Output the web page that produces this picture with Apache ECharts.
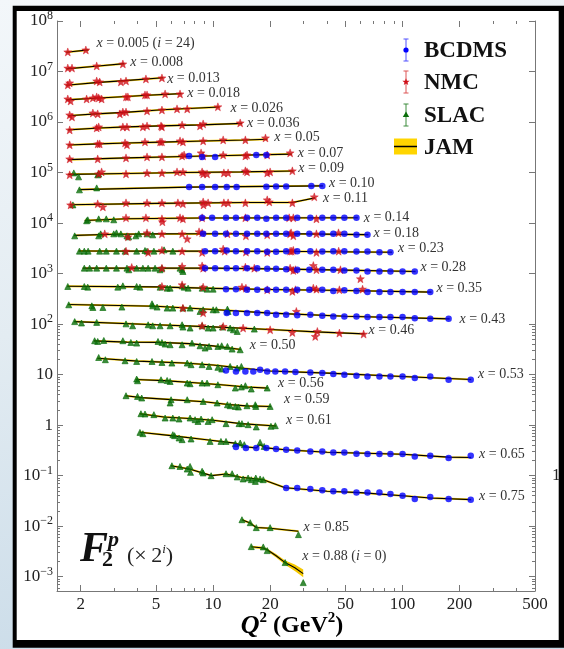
<!DOCTYPE html>
<html><head><meta charset="utf-8">
<script src="https://cdn.jsdelivr.net/npm/echarts@6/dist/echarts.min.js"></script>
<style>
html,body{margin:0;padding:0;width:564px;height:649px;overflow:hidden;
background:linear-gradient(170deg,#f3f7fa 0%,#e3ecf2 45%,#c6d9e7 100%);}
#chart{width:564px;height:649px;}
</style></head><body><div id="chart"></div>
<script>
// ---------------- DATA ----------------
const binX = ['0.005','0.008','0.013','0.018','0.026','0.036','0.05','0.07','0.09','0.10','0.11','0.14','0.18','0.23','0.28','0.35','0.43','0.46','0.50','0.53','0.56','0.59','0.61','0.65','0.75','0.85','0.88'];
const shownI = [[0, 24], [26, 0]];

// NMC: per bin, [Q2, F2 x 2^i]
const NMC = [
 [[1.71,2.44e7],[2.13,2.67e7]],
 [[1.71,1.17e7],[1.80,1.17e7],[2.43,1.29e7],[3.34,1.41e7]],
 [[1.71,5.42e6],[1.75,5.94e6],[2.43,6.50e6],[2.52,6.21e6],[3.26,6.21e6],[3.47,6.50e6],[4.42,7.13e6],[5.37,7.46e6]],
 [[1.71,2.86e6],[1.77,2.61e6],[2.15,2.86e6],[2.32,3.00e6],[2.43,3.14e6],[2.49,3.00e6],[2.58,2.86e6],[3.47,3.14e6],[3.55,3.14e6],[4.37,3.44e6],[4.48,3.44e6],[5.58,3.60e6],[6.69,3.60e6]],
 [[1.75,1.38e6],[1.80,1.26e6],[2.32,1.51e6],[2.46,1.45e6],[3.22,1.45e6],[3.34,1.58e6],[3.47,1.58e6],[4.48,1.66e6],[5.37,1.73e6],[6.45,1.82e6],[7.30,1.82e6],[10.6,2.00e6]],
 [[1.75,6.98e5],[2.43,7.64e5],[2.49,8.00e5],[3.34,8.00e5],[3.51,8.00e5],[4.26,8.00e5],[4.48,8.37e5],[5.31,8.37e5],[5.37,8.00e5],[6.86,8.77e5],[8.53,8.37e5],[8.86,9.17e5],[13.9,9.60e5]],
 [[1.75,3.53e5],[2.46,3.69e5],[2.52,3.69e5],[3.43,3.86e5],[3.51,3.53e5],[4.37,4.04e5],[5.25,4.04e5],[5.37,4.04e5],[6.69,4.23e5],[6.93,4.04e5],[8.86,4.23e5],[11.3,4.43e5],[14.8,4.43e5],[18.9,4.84e5]],
 [[1.75,1.86e5],[2.46,1.86e5],[3.47,1.95e5],[4.48,2.04e5],[5.37,2.04e5],[6.86,2.13e5],[7.03,2.23e5],[8.64,2.45e5],[8.86,2.13e5],[11.3,2.23e5],[14.8,2.13e5],[15.1,2.23e5],[19.3,2.23e5],[25.5,2.45e5]],
 [[1.75,9.0e4],[2.49,9.41e4],[2.58,1.03e5],[3.47,9.41e4],[4.48,9.84e4],[5.37,9.84e4],[6.45,1.03e5],[6.93,1.03e5],[8.75,1.03e5],[8.86,9.41e4],[9.29,9.41e4],[11.4,9.84e4],[12.0,9.84e4],[14.8,1.08e5],[15.1,1.03e5],[19.3,9.84e4],[20.0,1.03e5],[26.2,1.08e5]],
 [],
 [[1.77,2.29e4],[2.46,2.40e4],[2.62,2.09e4],[3.47,2.51e4],[4.48,2.51e4],[5.37,2.51e4],[6.52,2.51e4],[6.93,2.40e4],[8.86,2.62e4],[8.90,2.29e4],[9.41,2.51e4],[11.4,2.51e4],[12.0,2.51e4],[14.8,2.51e4],[19.3,2.88e4],[19.8,2.62e4],[26.2,2.51e4],[34.2,3.30e4]],
 [[3.47,1.27e4],[4.42,1.27e4],[5.37,1.21e4],[5.40,1.06e4],[6.69,1.27e4],[6.93,1.21e4],[8.75,1.27e4],[14.8,1.27e4],[25.2,1.27e4],[26.5,1.27e4],[35.1,1.21e4]],
 [[2.68,6.11e3],[3.55,5.33e3],[4.48,6.40e3],[5.37,6.11e3],[6.86,6.11e3],[7.30,4.87e3],[8.43,6.70e3],[8.75,6.40e3],[11.9,6.11e3],[14.9,5.58e3],[19.3,5.84e3],[25.5,6.11e3],[25.8,6.40e3],[26.5,5.58e3],[35.1,6.11e3],[45.9,6.40e3]],
 [[3.47,2.78e3],[4.54,2.62e3],[5.37,2.88e3],[6.86,2.78e3],[8.75,2.62e3],[11.3,3.05e3],[11.5,2.78e3],[14.9,2.66e3],[19.3,2.62e3],[25.5,2.78e3],[26.0,2.78e3],[26.5,2.88e3],[35.1,2.62e3],[46.0,2.78e3]],
 [[3.72,1.32e3],[5.37,1.28e3],[6.86,1.38e3],[8.75,1.42e3],[8.86,1.28e3],[14.8,1.34e3],[16.5,1.28e3],[25.5,1.28e3],[26.5,1.15e3],[27.2,1.19e3],[33.8,1.44e3],[35.1,1.19e3],[47.0,1.19e3],[59.9,788]],
 [[5.37,555],[6.86,599],[8.86,539],[14.2,539],[14.9,515],[19.3,477],[26.2,443],[27.2,477],[33.8,515],[35.1,492],[46.4,477],[61.5,492]],
 [[6.93,207],[8.86,167],[27.5,178]],
 [[8.75,92.5],[11.3,89.8],[14.4,83.4],[20.0,77.1],[26.2,68.2],[34.6,56.9],[35.5,71.4],[46.4,66.4],[62.3,63.4]],
 [],[],[],[],[],[],[],[],[]
];

// BCDMS: per bin, [Q2, F2 x 2^i]
const BCDMS = [
 [],[],[],[],[],[],[],
 [[7.47,2.13e5],[8.75,2.04e5],[10.25,2.04e5],[16.9,2.23e5],[19.1,2.23e5]],
 [],
 [[7.47,5.15e4],[8.75,5.2e4],[10.25,5.2e4],[11.8,5.2e4],[13.3,5.2e4],[19.1,5.25e4],[21.5,5.3e4],[24.3,5.3e4],[33.0,5.4e4],[37.7,5.44e4]],
 [],
 [[8.75,1.27e4],[9.88,1.27e4],[11.7,1.27e4],[13.2,1.27e4],[15.1,1.27e4],[17.1,1.27e4],[19.1,1.22e4],[21.5,1.27e4],[24.3,1.27e4],[27.8,1.27e4],[32.6,1.27e4],[37.7,1.27e4],[43.1,1.27e4],[49.3,1.27e4],[57.1,1.27e4]],
 [[8.86,6.11e3],[10.25,6.11e3],[11.7,6.11e3],[13.2,6.11e3],[15.1,6.11e3],[17.1,6.11e3],[19.1,6.11e3],[21.5,6.11e3],[24.3,6.11e3],[27.8,6.11e3],[32.2,6.11e3],[37.7,6.11e3],[43.1,6.11e3],[49.3,6.11e3],[57.1,5.84e3],[65.3,5.84e3]],
 [[9.07,2.78e3],[10.25,2.78e3],[11.8,2.86e3],[13.2,2.78e3],[15.1,2.78e3],[17.1,2.78e3],[19.3,2.70e3],[21.5,2.70e3],[24.3,2.78e3],[27.8,2.78e3],[32.6,2.78e3],[37.7,2.72e3],[43.1,2.78e3],[49.3,2.78e3],[57.1,2.72e3],[65.3,2.72e3],[75.5,2.64e3],[86.3,2.64e3]],
 [[9.07,1.28e3],[10.25,1.28e3],[11.8,1.28e3],[13.2,1.28e3],[15.1,1.28e3],[17.1,1.28e3],[19.3,1.24e3],[21.5,1.24e3],[24.3,1.22e3],[27.8,1.19e3],[32.2,1.19e3],[37.7,1.19e3],[43.1,1.19e3],[49.3,1.15e3],[57.1,1.15e3],[65.3,1.10e3],[75.5,1.10e3],[86.3,1.10e3],[100,1.10e3],[116,1.10e3]],
 [[11.7,492],[13.2,492],[15.1,477],[17.1,477],[19.3,477],[21.5,477],[24.3,477],[27.8,477],[32.2,477],[37.7,477],[43.1,450],[49.3,465],[57.1,450],[65.3,432],[75.5,432],[86.3,432],[100,432],[116,432],[140,432]],
 [[11.8,165],[13.2,165],[15.1,165],[17.1,165],[19.3,165],[21.5,153],[24.3,153],[27.8,150],[32.6,153],[37.7,146],[43.1,142],[49.3,142],[57.1,142],[65.3,138],[75.5,138],[86.3,138],[100,138],[116,131],[140,127],[175,127]],
 [],[],
 [[11.7,12.1],[13.2,11.5],[14.8,11.5],[16.3,11.5],[17.7,12.5],[19.3,11.5],[21.3,11.5],[24.0,11.5],[27.2,11.2],[32.6,11.0],[37.7,10.7],[43.1,10.3],[49.3,9.94],[57.1,9.49],[65.3,9.18],[75.5,9.18],[86.3,9.18],[100,9.18],[116,8.55],[140,9.18],[175,7.91],[229,7.91]],
 [],[],[],
 [[13.2,0.369],[14.9,0.352],[16.9,0.352],[19.1,0.352],[21.5,0.336],[24.3,0.326],[27.8,0.315],[32.6,0.301],[37.7,0.301],[43.1,0.288],[49.3,0.288],[57.1,0.272],[65.3,0.268],[75.5,0.268],[86.3,0.268],[100,0.268],[116,0.240],[140,0.248],[175,0.223],[229,0.248]],
 [[24.3,0.0570],[27.8,0.0570],[32.6,0.0545],[37.7,0.0511],[43.1,0.0488],[49.3,0.0488],[57.1,0.0466],[65.3,0.0466],[75.5,0.0466],[86.3,0.0434],[100,0.0401],[116,0.0345],[140,0.0378],[175,0.0345],[229,0.0334]],
 [],[]
];

// SLAC: per bin, [Q2, F2 x 2^i]
const SLAC = [
 [],[],[],[],[],[],[],[],
 [[1.84,9.84e4],[1.95,8.21e4],[2.46,9.0e4],[2.49,9.41e4]],
 [[1.97,4.54e4],[2.43,4.97e4]],
 [[1.82,2.29e4]],
 [[2.15,1.11e4],[2.18,1.16e4],[2.49,1.21e4],[2.73,1.21e4],[2.99,1.16e4]],
 [[1.86,5.58e3],[2.49,5.58e3],[2.55,6.11e3],[2.99,6.11e3],[3.09,6.40e3],[3.26,6.11e3],[3.51,5.58e3],[3.59,5.33e3],[3.91,5.58e3],[4.05,6.11e3],[4.48,6.11e3],[4.80,5.84e3]],
 [[1.97,2.78e3],[2.09,2.78e3],[2.19,2.78e3],[2.52,2.78e3],[2.73,2.78e3],[3.09,2.78e3],[3.43,2.78e3],[3.95,2.78e3],[4.37,2.86e3],[4.48,2.78e3],[4.87,2.78e3],[5.51,2.95e3],[6.13,2.78e3]],
 [[2.09,1.28e3],[2.23,1.28e3],[2.43,1.28e3],[2.73,1.28e3],[3.09,1.28e3],[3.51,1.28e3],[3.59,1.19e3],[3.95,1.28e3],[4.26,1.28e3],[4.54,1.28e3],[4.94,1.28e3],[5.25,1.19e3],[5.37,1.28e3],[6.69,1.28e3],[6.86,1.19e3],[6.93,1.10e3]],
 [[1.71,555],[2.09,555],[2.18,539],[3.14,539],[3.34,572],[3.95,555],[4.11,539],[5.25,539],[5.72,515],[5.93,515],[6.86,572],[7.03,539],[7.38,515],[8.75,515],[9.29,492],[10.0,492]],
 [[1.73,241],[2.29,230],[2.32,213],[2.62,213],[3.30,217],[4.76,252],[4.80,230],[5.06,217],[5.72,207],[6.13,207],[6.93,207],[7.56,207],[8.53,178],[8.86,192],[10.0,192],[10.4,192],[11.9,198],[12.0,178]],
 [[1.86,112],[2.02,105],[2.43,108],[3.47,101],[3.76,92.5],[4.54,96.9],[4.80,92.5],[5.25,92.5],[5.93,92.5],[6.86,96.9],[6.93,87.3],[7.56,83.4],[8.75,92.5],[9.41,83.4],[10.0,83.4],[11.2,87.3],[12.3,83.4],[12.8,77.1],[13.4,71.4],[16.5,79.6]],
 [[2.37,46.8],[2.46,45.3],[2.65,47.4],[3.34,46.8],[3.68,43.3],[3.95,42.0],[5.12,45.3],[5.37,43.3],[5.58,40.2],[5.93,39.0],[6.86,39.0],[7.74,42.0],[8.53,37.2],[9.07,33.5],[9.52,36.1],[10.6,36.1],[11.1,37.2],[11.9,36.1],[12.6,32.0],[13.9,31.0]],
 [[2.49,21.8],[2.70,19.7],[3.43,18.8],[3.95,18.2],[4.76,18.2],[5.37,17.4],[6.06,16.9],[7.30,16.9],[7.65,15.7],[8.75,15.7],[9.52,14.5],[10.6,13.9],[11.1,12.9],[12.3,14.5],[13.4,13.5],[14.1,14.5]],
 [[3.95,8.17],[3.99,7.56],[5.31,7.91],[5.72,7.66],[5.93,7.31],[7.30,6.80],[7.56,6.59],[8.75,6.80],[9.29,6.80],[10.6,6.30],[13.1,5.42],[14.1,5.68],[14.8,6.02],[15.9,5.18],[19.3,5.42]],
 [[3.47,3.82],[3.99,3.70],[4.20,3.44],[5.93,2.74],[6.00,3.18],[7.30,3.18],[8.86,2.94],[10.5,2.74],[11.9,2.53],[12.3,2.42],[13.1,2.34],[13.6,2.28],[15.1,2.42],[16.7,2.53],[16.8,2.34],[20.0,2.34]],
 [[4.16,1.68],[4.37,1.66],[4.87,1.61],[5.58,1.38],[6.13,1.38],[6.61,1.32],[7.56,1.38],[8.03,1.28],[8.32,1.18],[8.64,1.32],[9.41,1.18],[9.88,1.28],[11.7,1.07],[13.7,1.07],[14.2,1.07],[15.3,1.02],[16.9,0.920],[20.2,0.948],[21.3,0.973]],
 [[4.11,0.718],[4.26,0.676],[6.13,0.646],[6.26,0.618],[6.61,0.556],[6.86,0.515],[7.65,0.531],[9.64,0.476],[11.0,0.476],[11.7,0.476],[13.1,0.429],[13.9,0.443],[14.6,0.410],[17.7,0.455],[18.6,0.379]],
 [[6.06,0.157],[6.69,0.152],[7.30,0.135],[7.56,0.152],[7.60,0.116],[8.75,0.122],[8.86,0.113],[9.76,0.0997],[11.7,0.109],[12.6,0.109],[13.4,0.0940],[14.4,0.0859],[15.3,0.0898],[15.9,0.0830],[16.7,0.0769],[16.8,0.0898],[17.7,0.0859],[18.4,0.0830]],
 [[14.2,0.0134],[15.7,0.0117],[16.9,0.00934],[20.0,0.00934],[28.2,0.00679]],
 [[15.9,0.00393],[18.4,0.00388],[19.3,0.00328],[24.0,0.00190],[29.9,0.000762]]
];

// JAM fit curve: per bin, [Q2, F2 x 2^i]
const JAM = [
 [[1.68,2.40e7],[2.2,2.68e7]],
 [[1.68,1.13e7],[2.4,1.27e7],[3.4,1.43e7]],
 [[1.68,5.35e6],[2.5,6.1e6],[3.4,6.6e6],[5.45,7.5e6]],
 [[1.68,2.75e6],[2.5,3.0e6],[3.5,3.2e6],[4.5,3.4e6],[6.8,3.65e6]],
 [[1.72,1.33e6],[2.4,1.45e6],[3.4,1.55e6],[5.4,1.75e6],[10.8,1.98e6]],
 [[1.72,7.0e5],[2.5,7.6e5],[3.5,8.0e5],[5.3,8.4e5],[8.7,8.8e5],[14.2,9.4e5]],
 [[1.72,3.5e5],[2.5,3.7e5],[3.5,3.85e5],[5.3,4.0e5],[8.9,4.2e5],[14.8,4.4e5],[19.3,4.55e5]],
 [[1.72,1.8e5],[3.5,1.95e5],[7,2.08e5],[12,2.17e5],[26,2.32e5]],
 [[1.72,9.2e4],[3.5,9.6e4],[7,1.0e5],[14,1.03e5],[26.5,1.07e5]],
 [[1.97,4.6e4],[7.5,5.15e4],[38,5.45e4]],
 [[1.75,2.3e4],[5,2.45e4],[15,2.55e4],[26.2,2.55e4],[34.5,3.15e4]],
 [[2.1,1.12e4],[3.5,1.22e4],[8.75,1.26e4],[58,1.27e4]],
 [[1.85,5.7e3],[3,6.0e3],[5,6.1e3],[10,6.15e3],[30,6.1e3],[66,5.9e3]],
 [[1.95,2.8e3],[5,2.78e3],[10,2.78e3],[30,2.74e3],[88,2.65e3]],
 [[2.05,1.28e3],[5,1.28e3],[10,1.28e3],[20,1.24e3],[50,1.17e3],[117,1.10e3]],
 [[1.7,560],[5,545],[10,510],[20,485],[50,462],[142,430]],
 [[1.72,245],[5,225],[10,195],[20,165],[50,143],[177,127]],
 [[1.85,112],[5,97],[10,88],[20,78],[35,70],[63,64]],
 [[2.35,46.5],[3.5,44],[5.2,43.5],[7.5,41],[10,37],[14,31.5]],
 [[2.45,21],[4,18.5],[7,17],[10,15.5],[14,13.5],[20,11.8],[40,10.7],[100,9.2],[230,8.0]],
 [[3.9,8.0],[5.5,7.6],[8,6.9],[11,6.3],[15,5.7],[19.5,5.4]],
 [[3.45,3.8],[4.2,3.5],[6,3.2],[9,2.9],[12,2.55],[15,2.4],[20.2,2.33]],
 [[4.1,1.68],[5.5,1.45],[7.5,1.35],[10,1.25],[14,1.07],[21.5,0.96]],
 [[4.1,0.72],[6,0.62],[9,0.52],[13,0.44],[15,0.37],[16.9,0.355],[17.7,0.41],[18.9,0.355],[24,0.325],[40,0.29],[100,0.265],[175,0.232],[230,0.228]],
 [[6.0,0.157],[7.5,0.135],[9.8,0.10],[11.7,0.108],[14,0.093],[17,0.086],[18.4,0.083],[24,0.0575],[40,0.049],[60,0.046],[100,0.040],[140,0.036],[230,0.0335]],
 [[14.2,0.0134],[15.7,0.0115],[16.9,0.0094],[20,0.0091],[28.2,0.0079]],
 [[15.9,0.0039],[18.4,0.0037],[19.3,0.0034],[21.5,0.0026],[24,0.0019],[27,0.0015],[29.9,0.00115]]
];
// JAM uncertainty band for the x = 0.88 bin (same Q2 as JAM[26])
const bandBin = 26;
const bandUpper = [0.0041,0.0039,0.0036,0.0028,0.0021,0.00175,0.00138];
const bandLower = [0.0037,0.0035,0.0032,0.0024,0.00172,0.0013,0.00097];

// axis ticks
const xTicks = [2,5,10,20,50,100,200,500];
const xMinor = [3,4,6,7,8,9,30,40,60,70,80,90,300,400];
const yTicks = [1e-3,1e-2,1e-1,1,10,100,1e3,1e4,1e5,1e6,1e7,1e8];
const yMinor = [];
for (let d = -4; d <= 1; d++) for (let k = 2; k <= 9; k++) { const v = k * Math.pow(10, d); if (v > 5.2e-4) yMinor.push(v); }

// ---------------- STYLE ----------------
const SERIF = "'Liberation Serif','DejaVu Serif',serif";
const AX = '#777';
const C_B = '#0000ff', C_N = '#d0101a', C_S = '#0a6e0a', C_Y = '#f5c800';
const STAR = 'path://M50,0 L62,33 L98,35 L70,57 L80,92 L50,72 L20,92 L30,57 L2,35 L38,33 Z';
const labelOffsets = [[3,-7],[1,-1],[-1,1],[1,0],[6,1],[0,0],[2,-2],[1,-1],[0,-3],[1,-3],[3,0],[1,0],[0,-1],[1,-4],[0,-4],[0,-4],[5,0],[-1,-4],[4,-4],[2,-5],[5,-5],[8,-7],[5,-6],[3,-3],[3,-3],[0,-4],[-6,-17]];

function yFmt(v) {
  const e = Math.round(Math.log10(v));
  if (e === 0) return '{b|1}';
  if (e === 1) return '{b|10}';
  return '{b|10}{s|' + (e < 0 ? '\u2212' + (-e) : e) + '}';
}
const yRich = { b: { fontFamily: SERIF, fontSize: 17, color: '#222', lineHeight: 22 },
                s: { fontFamily: SERIF, fontSize: 12, color: '#222', lineHeight: 12, verticalAlign: 'top' } };

const X_MIN = 1.5, X_MAX = 500, Y_MIN = 5.2e-4, Y_MAX = 1e8;
function xAx(pos, ticks, len, labels) {
  return { type: 'log', logBase: 10, min: X_MIN, max: X_MAX, position: pos, gridIndex: 0,
    axisLine: { show: labels, onZero: false, lineStyle: { color: AX, width: 1 } },
    axisTick: { show: true, inside: true, length: len, customValues: ticks, lineStyle: { color: AX, width: 1 } },
    axisLabel: labels ? { show: true, customValues: xTicks, margin: 5, fontFamily: SERIF, fontSize: 17, color: '#222' } : { show: false },
    splitLine: { show: false }, minorTick: { show: false } };
}
function yAx(pos, ticks, len, labels, line) {
  return { type: 'log', logBase: 10, min: Y_MIN, max: Y_MAX, position: pos, gridIndex: 0,
    axisLine: { show: line, onZero: false, lineStyle: { color: AX, width: 1 } },
    axisTick: { show: true, inside: true, length: len, customValues: ticks, lineStyle: { color: AX, width: 1 } },
    axisLabel: labels ? { show: true, customValues: yTicks, margin: 4, formatter: yFmt, rich: yRich } : { show: false },
    splitLine: { show: false }, minorTick: { show: false } };
}

const series = [];
JAM.forEach((pts, i) => {
  if (i !== bandBin) {
    series.push({ type: 'line', data: pts, symbol: 'none', silent: true, z: 2,
      lineStyle: { color: C_Y, width: 2 }, animation: false });
  }
  let txt = '{i|x} = ' + binX[i];
  shownI.forEach(s => { if (s[0] === i) txt += ' ({i|i} = ' + s[1] + ')'; });
  series.push({ type: 'line', name: 'JAM', data: pts, symbol: 'none', silent: true, z: 3,
    lineStyle: { color: '#000', width: 1.1 }, animation: false,
    endLabel: { show: true, distance: 5, offset: labelOffsets[i], formatter: () => txt,
      fontFamily: SERIF, fontSize: 14, color: '#333',
      rich: { i: { fontFamily: SERIF, fontSize: 14, fontStyle: 'italic', color: '#333' } } } });
});
series.push({ type: 'custom', silent: true, z: 2, animation: false,
  data: [JAM[bandBin][0]],
  renderItem: (params, api) => {
    const pts = [];
    JAM[bandBin].forEach((p, k) => pts.push(api.coord([p[0], bandUpper[k]])));
    for (let k = JAM[bandBin].length - 1; k >= 0; k--) pts.push(api.coord([JAM[bandBin][k][0], bandLower[k]]));
    return { type: 'polygon', shape: { points: pts }, style: { fill: C_Y } };
  } });
series.push({ type: 'scatter', name: 'SLAC', data: SLAC.flat(), symbol: 'triangle', symbolSize: 6,
  itemStyle: { color: C_S, borderColor: C_S, borderWidth: 0.8 }, z: 5, animation: false });
series.push({ type: 'scatter', name: 'NMC', data: NMC.flat(), symbol: STAR, symbolSize: 8,
  itemStyle: { color: C_N, borderColor: C_N, borderWidth: 0.5 }, z: 6, animation: false });
series.push({ type: 'scatter', name: 'BCDMS', data: BCDMS.flat(), symbol: 'circle', symbolSize: 6.5,
  itemStyle: { color: C_B }, z: 7, animation: false });

// legend graphics
function errIcon(x, y, col, markerEl) {
  return [
    { type: 'line', shape: { x1: x, y1: y - 11, x2: x, y2: y + 11 }, style: { stroke: col, lineWidth: 1 }, z: 100 },
    { type: 'line', shape: { x1: x - 2.5, y1: y - 11, x2: x + 2.5, y2: y - 11 }, style: { stroke: col, lineWidth: 1 }, z: 100 },
    { type: 'line', shape: { x1: x - 2.5, y1: y + 11, x2: x + 2.5, y2: y + 11 }, style: { stroke: col, lineWidth: 1 }, z: 100 },
    markerEl
  ];
}
function starPts(cx, cy, r) {
  const p = [];
  for (let k = 0; k < 10; k++) { const a = -Math.PI / 2 + k * Math.PI / 5; const rr = k % 2 ? r * 0.42 : r; p.push([cx + rr * Math.cos(a), cy + rr * Math.sin(a)]); }
  return p;
}
const LX = 406;
const legendFont = "bold 23px " + SERIF;
const graphics = [
  { type: 'rect', shape: { x: 12.7, y: 5.7, width: 560, height: 642 }, style: { fill: '#000' }, z: -100 },
  { type: 'rect', shape: { x: 16.7, y: 11, width: 542, height: 629 }, style: { fill: '#fff' }, z: -99 },
  ...errIcon(LX, 50, '#5050ff', { type: 'circle', shape: { cx: LX, cy: 50, r: 2.6 }, style: { fill: C_B }, z: 101 }),
  ...errIcon(LX, 82, '#dd5555', { type: 'polygon', shape: { points: starPts(LX, 82, 3.8) }, style: { fill: C_N }, z: 101 }),
  ...errIcon(LX, 115, '#3c8c3c', { type: 'polygon', shape: { points: [[LX, 111.5], [LX + 3.2, 117], [LX - 3.2, 117]] }, style: { fill: C_S }, z: 101 }),
  { type: 'rect', shape: { x: 394, y: 138.5, width: 23, height: 16 }, style: { fill: '#ffd500' }, z: 100 },
  { type: 'line', shape: { x1: 394, y1: 146.5, x2: 417, y2: 146.5 }, style: { stroke: '#000', lineWidth: 1.5 }, z: 101 },
  { type: 'text', x: 424, y: 51, style: { text: 'BCDMS', font: legendFont, fill: '#111', textVerticalAlign: 'middle' }, z: 100 },
  { type: 'text', x: 424, y: 83, style: { text: 'NMC', font: legendFont, fill: '#111', textVerticalAlign: 'middle' }, z: 100 },
  { type: 'text', x: 424, y: 116, style: { text: 'SLAC', font: legendFont, fill: '#111', textVerticalAlign: 'middle' }, z: 100 },
  { type: 'text', x: 424, y: 148, style: { text: 'JAM', font: legendFont, fill: '#111', textVerticalAlign: 'middle' }, z: 100 },
  // F2^p (x 2^i)
  { type: 'text', x: 80, y: 550, style: { text: 'F', font: "italic bold 42px " + SERIF, fill: '#111', textVerticalAlign: 'middle' }, z: 100 },
  { type: 'text', x: 108, y: 540, style: { text: 'p', font: "italic bold 22px " + SERIF, fill: '#111', textVerticalAlign: 'middle' }, z: 100 },
  { type: 'text', x: 102, y: 560, style: { text: '2', font: "bold 22px " + SERIF, fill: '#111', textVerticalAlign: 'middle' }, z: 100 },
  { type: 'text', x: 127, y: 556, style: { text: '{n|(\u00d7\u20092}{s|i}{n|)}', fill: '#222', textVerticalAlign: 'middle',
      rich: { n: { fontFamily: SERIF, fontSize: 22, lineHeight: 26, color: '#222' },
              s: { fontFamily: SERIF, fontSize: 13, fontStyle: 'italic', lineHeight: 13, verticalAlign: 'top', color: '#222' } } }, z: 100 },
  // x-axis title
  { type: 'text', x: 292, y: 626, style: { text: '{q|Q}{s|2}{n| (GeV}{s|2}{n|)}', textAlign: 'center', textVerticalAlign: 'middle',
      rich: { q: { fontFamily: SERIF, fontSize: 26, fontWeight: 'bold', fontStyle: 'italic', lineHeight: 30, color: '#111' },
              n: { fontFamily: SERIF, fontSize: 24, fontWeight: 'bold', lineHeight: 30, color: '#111' },
              s: { fontFamily: SERIF, fontSize: 15, fontWeight: 'bold', lineHeight: 15, verticalAlign: 'top', color: '#111' } } }, z: 100 },
  { type: 'text', x: 552, y: 476, style: { text: '1', font: "17px " + SERIF, fill: '#222', textVerticalAlign: 'middle' }, z: 50 }
];

const chart = echarts.init(document.getElementById('chart'), null, { renderer: 'canvas' });
chart.setOption({
  backgroundColor: 'transparent',
  animation: false,
  grid: { left: 57, right: 29, top: 21, bottom: 58, containLabel: false, outerBoundsMode: 'none' },
  xAxis: [ xAx('bottom', xTicks, 6, true), xAx('bottom', xMinor, 3, false),
           xAx('top', xTicks, 6, false), xAx('top', xMinor, 3, false) ],
  yAxis: [ yAx('left', yTicks, 6, true, true), yAx('left', yMinor, 3, false, false),
           yAx('right', yTicks, 6, false, true), yAx('right', yMinor, 3, false, false) ],
  series: series,
  graphic: { elements: graphics }
});
</script></body></html>
